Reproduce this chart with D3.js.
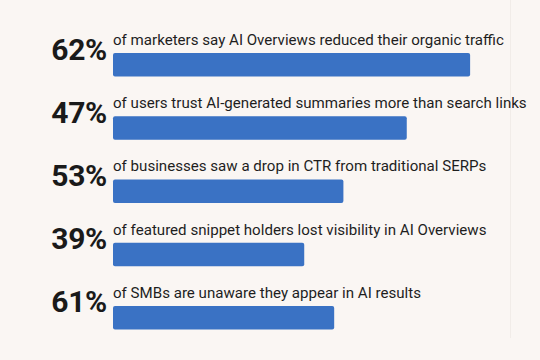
<!DOCTYPE html>
<html><head><meta charset="utf-8">
<script src="https://cdn.jsdelivr.net/npm/d3@7"></script>
<style>
html,body{margin:0;padding:0;background:#faf6f3;}
svg{display:block;}
</style></head>
<body>
<script>
const percentLabels = ["62%", "47%", "53%", "39%", "61%"];
const descriptions = [
  "of marketers say AI Overviews reduced their organic traffic",
  "of users trust AI-generated summaries more than search links",
  "of businesses saw a drop in CTR from traditional SERPs",
  "of featured snippet holders lost visibility in AI Overviews",
  "of SMBs are unaware they appear in AI results"
];
const barValues = [62, 51, 40, 33.2, 38.4];

const W = 540, H = 360;
const svg = d3.select("body").append("svg").attr("width", W).attr("height", H);
svg.append("rect").attr("width", W).attr("height", H).attr("fill", "#faf6f3");
svg.append("line").attr("x1", 510.5).attr("x2", 510.5).attr("y1", 0).attr("y2", 338)
  .attr("stroke", "#f1ece8").attr("stroke-width", 1);

const x = d3.scaleLinear().domain([0, 100]).range([113, 113 + 576]);
const y = d3.scaleBand().domain(d3.range(percentLabels.length)).range([53, 329.5]).paddingInner(0.628);

const rows = svg.selectAll("g.row").data(percentLabels).join("g").attr("class", "row");

rows.append("rect")
  .attr("x", x(0))
  .attr("y", (d, i) => y(i))
  .attr("width", (d, i) => x(barValues[i]) - x(0))
  .attr("height", y.bandwidth())
  .attr("rx", 2)
  .attr("fill", "#3a72c4");

rows.append("text")
  .attr("x", 113)
  .attr("y", (d, i) => y(i) - 8)
  .attr("font-family", "Roboto, sans-serif")
  .attr("font-size", 15.1)
  .attr("fill", "#1e1e1e")
  .text((d, i) => descriptions[i]);

rows.append("text")
  .attr("x", 107)
  .attr("y", (d, i) => y(i) + 6.5)
  .attr("text-anchor", "end")
  .attr("font-family", "Roboto, sans-serif")
  .attr("font-weight", 700)
  .attr("font-size", 30)
  .attr("letter-spacing", -0.3)
  .attr("fill", "#1a1a1a")
  .text(d => d);
</script>
</body></html>
